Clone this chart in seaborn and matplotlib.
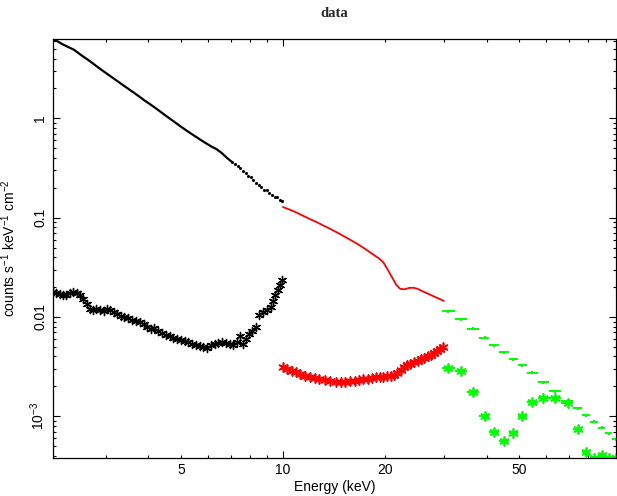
import numpy as np
import pandas as pd
import matplotlib
matplotlib.use("Agg")
import matplotlib.pyplot as plt
import seaborn as sns
from matplotlib.ticker import FixedLocator, FixedFormatter, NullFormatter, LogLocator

# ---------------- data ----------------
# instrument 1 source spectrum (black dots)
src1_E = [2.10, 2.16, 2.22, 2.28, 2.34, 2.40, 2.47, 2.54, 2.62, 2.70, 2.78, 2.87, 2.96,
          3.06, 3.16, 3.27, 3.38, 3.50, 3.62, 3.75, 3.88, 4.02, 4.16, 4.31, 4.46, 4.62,
          4.79, 4.96, 5.14, 5.33, 5.52, 5.72, 5.93, 6.14, 6.36, 6.59, 6.83, 7.08, 7.20,
          7.34, 7.47, 7.61, 7.75, 7.89, 8.03, 8.18, 8.33, 8.48, 8.63, 8.79, 8.95, 9.11,
          9.28, 9.45, 9.62, 9.80, 9.95]
src1_y = [6.25, 5.95, 5.62, 5.38, 5.15, 4.95, 4.62, 4.30, 4.00, 3.72, 3.45, 3.18, 2.95,
          2.72, 2.52, 2.32, 2.14, 1.97, 1.82, 1.67, 1.53, 1.41, 1.30, 1.19, 1.09, 1.00,
          0.915, 0.838, 0.770, 0.708, 0.655, 0.605, 0.560, 0.521, 0.490, 0.448, 0.400,
          0.362, 0.350, 0.328, 0.318, 0.296, 0.282, 0.262, 0.258, 0.240, 0.226, 0.214,
          0.205, 0.192, 0.188, 0.178, 0.170, 0.163, 0.160, 0.152, 0.146]

# instrument 1 background (black stars)
bkg1_E = [2.09, 2.14, 2.19, 2.24, 2.29, 2.34, 2.40, 2.46, 2.51, 2.57, 2.63, 2.69, 2.75,
          2.81, 2.88, 2.95, 3.02, 3.09, 3.16, 3.24, 3.32, 3.40, 3.49, 3.58, 3.67, 3.77,
          3.87, 3.97, 4.07, 4.17, 4.28, 4.39, 4.50, 4.62, 4.74, 4.86, 4.99, 5.12, 5.25,
          5.39, 5.53, 5.67, 5.82, 5.97, 6.12, 6.28, 6.44, 6.61, 6.78, 6.95, 7.13, 7.31,
          7.46, 7.64, 7.78, 7.94, 8.10, 8.30, 8.50, 8.75, 9.00, 9.20, 9.35, 9.50, 9.65,
          9.80, 9.92]
bkg1_y = [0.0178, 0.0176, 0.0170, 0.0165, 0.0168, 0.0175, 0.0178, 0.0176, 0.0167, 0.0150,
          0.0134, 0.0121, 0.0118, 0.0121, 0.0117, 0.0114, 0.0119, 0.0118, 0.0112, 0.0107,
          0.0103, 0.0100, 0.0097, 0.0094, 0.00915, 0.0088, 0.00845, 0.00785, 0.0075,
          0.0077, 0.0072, 0.00685, 0.0066, 0.0065, 0.0062, 0.0060, 0.00585, 0.00575,
          0.00555, 0.0054, 0.00525, 0.00515, 0.0050, 0.0049, 0.0052, 0.0054, 0.0055,
          0.0056, 0.00545, 0.0053, 0.00525, 0.0056, 0.0065, 0.0054, 0.0060, 0.0068,
          0.0073, 0.0079, 0.0105, 0.0113, 0.0118, 0.0125, 0.0145, 0.0165, 0.0185,
          0.0208, 0.0234]

# instrument 2 source spectrum (red)
src2_E = [10.0, 10.5, 11.0, 11.5, 12.0, 12.6, 13.2, 13.8, 14.5, 15.2, 16.0, 16.8, 17.6,
          18.4, 19.2, 19.8, 20.4, 21.0, 21.6, 22.2, 22.9, 23.6, 24.3, 25.0, 25.8, 26.6,
          27.5, 28.4, 29.3, 29.9]
src2_y = [0.128, 0.120, 0.112, 0.104, 0.0970, 0.0898, 0.0830, 0.0770, 0.0705, 0.0645,
          0.0585, 0.0530, 0.0478, 0.0430, 0.0390, 0.0355, 0.0300, 0.0252, 0.0212, 0.0192,
          0.0190, 0.0196, 0.0197, 0.0192, 0.0182, 0.0174, 0.0165, 0.0157, 0.0150, 0.0145]

# instrument 2 background (red stars)
bkg2_E = [10.0, 10.3, 10.6, 10.9, 11.2, 11.6, 12.0, 12.4, 12.8, 13.3, 13.8, 14.3, 14.8,
          15.3, 15.8, 16.3, 16.8, 17.3, 17.8, 18.3, 18.8, 19.3, 19.8, 20.3, 20.8, 21.3,
          21.8, 22.3, 22.8, 23.3, 23.8, 24.4, 25.0, 25.6, 26.2, 26.8, 27.4, 28.0, 28.6,
          29.2, 29.8]
bkg2_y = [0.00310, 0.00298, 0.00287, 0.00277, 0.00266, 0.00257, 0.00249, 0.00242,
          0.00236, 0.00230, 0.00226, 0.00223, 0.00222, 0.00222, 0.00224, 0.00227,
          0.00231, 0.00235, 0.00239, 0.00243, 0.00246, 0.00249, 0.00251, 0.00253,
          0.00254, 0.00258, 0.00270, 0.00292, 0.00312, 0.00328, 0.00339, 0.00351,
          0.00363, 0.00376, 0.00389, 0.00403, 0.00418, 0.00435, 0.00454, 0.00473, 0.00495]

# instrument 3 (green): source and background share the energy bins
grn_E = [30.8, 33.6, 36.5, 39.5, 42.1, 45.1, 48.0, 50.8, 54.5, 58.9, 63.8, 69.4, 74.7,
         78.6, 83.2, 87.8, 91.9, 96.5]
grn_src_y = [0.01146, 0.00946, 0.00762, 0.00620, 0.00522, 0.00443, 0.00377, 0.00326,
             0.00275, 0.00221, 0.00178, 0.00141, 0.00120, 0.00103, 0.000883, 0.000768,
             0.000678, 0.000585]
grn_bkg_y = [0.00309, 0.00285, 0.00175, 0.00100, 0.000693, 0.000558, 0.000673, 0.000998,
             0.00139, 0.00152, 0.00152, 0.00136, 0.000738, 0.000436, 0.000383, 0.000404,
             0.000383, 0.000380]

x_major = [10]
x_minor = [3, 4, 5, 6, 7, 8, 9, 20, 30, 40, 50, 60, 70, 80, 90]
x_labels = {5: "5", 10: "10", 20: "20", 50: "50"}
y_major = [1e-3, 1e-2, 1e-1, 1]
y_labels = [r"$10^{-3}$", "0.01", "0.1", "1"]

title = "data"
xlabel = "Energy (keV)"
ylabel = r"counts s$^{-1}$ keV$^{-1}$ cm$^{-2}$"

# ---------------- style ----------------
sns.set_theme(style="ticks")
plt.rcParams["font.family"] = ["Liberation Sans", "DejaVu Sans"]
plt.rcParams["mathtext.fontset"] = "custom"
plt.rcParams["mathtext.rm"] = "Liberation Sans"
plt.rcParams["mathtext.it"] = "Liberation Sans:italic"
plt.rcParams["mathtext.bf"] = "Liberation Sans:bold"

BLACK = "#000000"
RED = "#ff0000"
GREEN = "#00ff00"
STAR = (6, 2, 0)


def log_halfwidths(E):
    lg = np.log10(np.asarray(E, dtype=float))
    mid = (lg[1:] + lg[:-1]) / 2
    lo = np.concatenate([[2 * lg[0] - mid[0]], mid])
    hi = np.concatenate([mid, [2 * lg[-1] - mid[-1]]])
    E = 10 ** lg
    return np.vstack([E - 10 ** lo, 10 ** hi - E])


fig = plt.figure(figsize=(6.17, 4.96), dpi=100)
ax = fig.add_axes([53 / 617, 38 / 496, 563 / 617, 419 / 496])
ax.set_xscale("log")
ax.set_yscale("log")

# --- black source ---
df1 = pd.DataFrame({"E": src1_E, "y": src1_y})
sns.lineplot(data=df1[df1.E <= 7.1], x="E", y="y", sort=False, estimator=None,
             color=BLACK, lw=1.6, ax=ax)
sns.scatterplot(data=df1[df1.E > 7.0], x="E", y="y", color=BLACK, s=5, marker="o",
                linewidth=0, ax=ax)

# --- black background ---
dfb1 = pd.DataFrame({"E": bkg1_E, "y": bkg1_y})
sns.scatterplot(data=dfb1, x="E", y="y", color=BLACK, marker=STAR, s=34,
                linewidth=1.0, ax=ax)

# --- red source ---
df2 = pd.DataFrame({"E": src2_E, "y": src2_y})
sns.lineplot(data=df2, x="E", y="y", sort=False, estimator=None, color=RED, lw=1.3, ax=ax)

# --- red background ---
dfb2 = pd.DataFrame({"E": bkg2_E, "y": bkg2_y})
sns.scatterplot(data=dfb2, x="E", y="y", color=RED, marker=STAR, s=40,
                linewidth=1.2, ax=ax)

# --- green source & background ---
xerr = log_halfwidths(grn_E)
gs = np.asarray(grn_src_y)
ax.errorbar(grn_E, grn_src_y, xerr=xerr, yerr=[gs * 0.035, gs * 0.035], fmt="none",
            ecolor=GREEN, elinewidth=1.4, capsize=0)
ax.errorbar(grn_E, grn_bkg_y, xerr=xerr, fmt="none", ecolor=GREEN, elinewidth=1.4,
            capsize=0)
dfg = pd.DataFrame({"E": grn_E, "y": grn_bkg_y})
sns.scatterplot(data=dfg, x="E", y="y", color=GREEN, marker=STAR, s=40,
                linewidth=1.3, ax=ax)

# ---------------- axes ----------------
ax.set_xlim(2.09, 96.5)
ax.set_ylim(3.8e-4, 6.3)

ax.xaxis.set_major_locator(FixedLocator(x_major))
ax.xaxis.set_major_formatter(FixedFormatter([x_labels.get(v, "") for v in x_major]))
ax.xaxis.set_minor_locator(FixedLocator(x_minor))
ax.xaxis.set_minor_formatter(FixedFormatter([x_labels.get(v, "") for v in x_minor]))

ax.yaxis.set_major_locator(FixedLocator(y_major))
ax.yaxis.set_major_formatter(FixedFormatter(y_labels))
ax.yaxis.set_minor_locator(LogLocator(base=10, subs=range(2, 10), numticks=20))
ax.yaxis.set_minor_formatter(NullFormatter())

ax.tick_params(which="both", direction="in", top=True, right=True, color="black",
               width=0.8, labelsize=10, labelcolor="black")
ax.tick_params(which="major", length=5.0)
ax.tick_params(which="minor", length=2.5)
ax.tick_params(axis="x", which="both", pad=3.5)
ax.tick_params(axis="y", which="both", pad=4)
for lab in ax.get_yticklabels():
    lab.set_rotation(90)
    lab.set_va("center")
    lab.set_ha("right")

for sp in ax.spines.values():
    sp.set_visible(True)
    sp.set_color("black")
    sp.set_linewidth(0.9)

ax.set_xlabel(xlabel, fontsize=10, labelpad=2, color="black")
ax.set_ylabel(ylabel, fontsize=10, labelpad=8, color="black")

fig.text((53 + 616) / 2 / 617, 1 - 17 / 496, title, ha="center", va="baseline",
         fontsize=10.5, fontweight="bold", family=["Liberation Serif", "DejaVu Serif"])

fig.savefig("out.png", dpi=100)
